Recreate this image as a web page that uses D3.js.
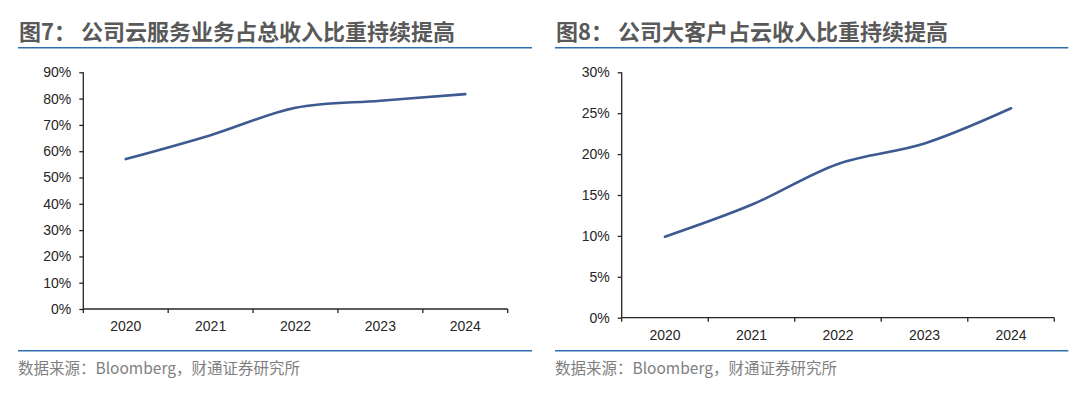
<!DOCTYPE html>
<html>
<head>
<meta charset="utf-8">
<script src="https://cdn.jsdelivr.net/npm/d3@7"></script>
<style>
    body { margin: 0; background: #fff; }
    svg { display: block; }
    .title { font-family: "Noto Sans CJK SC", sans-serif; font-weight: 700; fill: #595959; }
    .source { font-family: "Noto Sans CJK SC", sans-serif; fill: #7f7f7f; }
    .axis text { font-family: "Liberation Sans", Arial, sans-serif; font-size: 14px; fill: #262626; }
    .axis path, .axis line { stroke: #262626; stroke-width: 1.3; }
</style>
</head>
<body>
<svg width="1080" height="403"></svg>
<script>
const years = ["2020", "2021", "2022", "2023", "2024"];

// 图7: cloud share of total revenue
const cloud_share = [0.57, 0.661, 0.765, 0.792, 0.817];
const cloud_ticks = [0, 0.1, 0.2, 0.3, 0.4, 0.5, 0.6, 0.7, 0.8, 0.9];

// 图8: large customers share of cloud revenue
const big_client_share = [0.099, 0.138, 0.188, 0.213, 0.256];
const client_ticks = [0, 0.05, 0.1, 0.15, 0.2, 0.25, 0.3];

const titles = ["图7： 公司云服务业务占总收入比重持续提高", "图8： 公司大客户占云收入比重持续提高"];
const source_text = "数据来源：Bloomberg，财通证券研究所";

const line_colour = "#3d5a91";
const rule_colour = "#2f6fae";

const svg = d3.select("svg");

function draw_panel(p) {
    const g = svg.append("g");

    g.append("text")
        .attr("class", "title")
        .attr("x", p.left)
        .attr("y", 32)
        .attr("dy", "0.35em")
        .style("font-size", "22px")
        .text(p.title);

    g.append("line")
        .attr("x1", p.left - 1).attr("x2", p.right)
        .attr("y1", 47.7).attr("y2", 47.7)
        .attr("stroke", rule_colour)
        .attr("stroke-width", 1.5);

    const x = d3.scaleBand().domain(years).range([p.x0, p.x1]);
    const y = d3.scaleLinear().domain([0, p.max]).range([p.y0, 72.3]);

    const y_axis = g.append("g")
        .attr("class", "axis")
        .attr("transform", "translate(" + p.x0 + ",0)")
        .call(d3.axisLeft(y).tickValues(p.ticks).tickSize(4).tickPadding(8)
            .tickFormat(d3.format(".0%")));

    const x_axis = g.append("g")
        .attr("class", "axis")
        .attr("transform", "translate(0," + p.y0 + ")")
        .call(d3.axisBottom(x).tickSize(0).tickPadding(12));

    // Excel style ticks at category boundaries
    x_axis.selectAll(".boundary")
        .data(d3.range(years.length + 1))
        .enter()
        .append("line")
        .attr("class", "boundary")
        .attr("x1", i => p.x0 + i * x.step())
        .attr("x2", i => p.x0 + i * x.step())
        .attr("y1", 0)
        .attr("y2", 4);

    x_axis.select(".domain").attr("d", "M" + p.x0 + ",0H" + p.x1);
    y_axis.select(".domain").attr("d", "M0," + p.y0 + "V72.3");

    const line = d3.line()
        .x((d, i) => x(years[i]) + x.bandwidth() / 2)
        .y(d => y(d))
        .curve(d3.curveCatmullRom);

    g.append("path")
        .datum(p.values)
        .attr("d", line)
        .attr("fill", "none")
        .attr("stroke", line_colour)
        .attr("stroke-width", 2.6)
        .attr("stroke-linecap", "round");

    g.append("line")
        .attr("x1", p.left - 1).attr("x2", p.right)
        .attr("y1", 350.7).attr("y2", 350.7)
        .attr("stroke", rule_colour)
        .attr("stroke-width", 1.5);

    g.append("text")
        .attr("class", "source")
        .attr("x", p.left - 1)
        .attr("y", 368.3)
        .attr("dy", "0.35em")
        .style("font-size", "15.5px")
        .text(source_text);
}

draw_panel({
    title: titles[0], left: 19, right: 532,
    x0: 83.3, x1: 507.7, y0: 309, max: 0.9,
    ticks: cloud_ticks, values: cloud_share
});

draw_panel({
    title: titles[1], left: 556, right: 1068.3,
    x0: 621.7, x1: 1054.3, y0: 317.7, max: 0.3,
    ticks: client_ticks, values: big_client_share
});
</script>
</body>
</html>
